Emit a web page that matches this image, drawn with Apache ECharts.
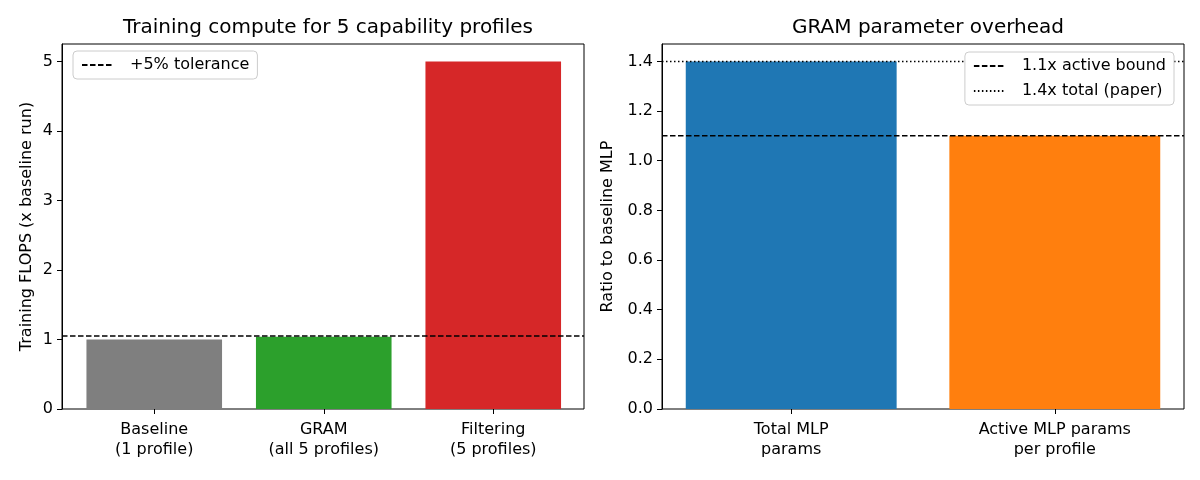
<!DOCTYPE html>
<html>
<head>
<meta charset="utf-8">
<script src="https://cdn.jsdelivr.net/npm/echarts@6/dist/echarts.min.js"></script>
<style>
  html, body { margin: 0; padding: 0; background: #fff; }
  #chart { width: 1200px; height: 480px; }
</style>
</head>
<body>
<div id="chart"></div>
<script>
// left panel
const computeCats = ['Baseline\n(1 profile)', 'GRAM\n(all 5 profiles)', 'Filtering\n(5 profiles)'];
const computeVals = [1.0, 1.04, 5.0];
const computeColors = ['#7f7f7f', '#2ca02c', '#d62728'];
const computeTicks = [0, 1, 2, 3, 4, 5];
const tolerance = 1.05;

// right panel
const paramCats = ['Total MLP\nparams', 'Active MLP params\nper profile'];
const paramVals = [1.4, 1.1];
const paramColors = ['#1f77b4', '#ff7f0e'];
const paramTicks = [0, 0.2, 0.4, 0.6, 0.8, 1.0, 1.2, 1.4];
const activeBound = 1.1;
const totalPaper = 1.4;

const FONT = 'DejaVu Sans';
const FS = 16;
const chart = echarts.init(document.getElementById('chart'));

const plotTop = 44, plotH = 365;
// frame grids (spines) and inner bar grids (matplotlib margins)
const grids = [
  { left: 62, top: plotTop, width: 522, height: plotH, show: true, borderColor: '#000', borderWidth: 1 },
  { left: 69.5, top: plotTop, width: 508.5, height: plotH },
  { left: 662, top: plotTop, width: 522, height: plotH, show: true, borderColor: '#000', borderWidth: 1 },
  { left: 659.4, top: plotTop, width: 527.2, height: plotH }
];

function frameY(grid, max, ticks, name, gap, fmt) {
  return {
    type: 'value', gridIndex: grid, min: 0, max: max,
    name: name, nameLocation: 'middle', nameGap: gap,
    nameTextStyle: { fontFamily: FONT, fontSize: FS, color: '#000' },
    splitLine: { show: false },
    axisLine: { show: true, lineStyle: { color: '#000', width: 1 } },
    axisTick: { show: true, length: 5, lineStyle: { color: '#000' }, customValues: ticks },
    axisLabel: { fontFamily: FONT, fontSize: FS, color: '#000', margin: 9, customValues: ticks, formatter: fmt }
  };
}
function hiddenY(grid, max) {
  return { type: 'value', gridIndex: grid, min: 0, max: max, show: false, splitLine: { show: false } };
}
function hiddenX(grid) {
  return { type: 'value', gridIndex: grid, min: 0, max: 1, show: false, splitLine: { show: false } };
}
function catX(grid, cats) {
  return {
    type: 'category', gridIndex: grid, data: cats,
    axisLine: { show: false },
    axisTick: { show: true, alignWithLabel: true, length: 5, lineStyle: { color: '#000' } },
    axisLabel: { fontFamily: FONT, fontSize: FS, color: '#000', margin: 11, lineHeight: 20 }
  };
}
function refLine(name, grid, y, dash) {
  return {
    name: name, type: 'line', xAxisIndex: grid, yAxisIndex: grid,
    data: [[0, y], [1, y]], symbol: 'none', silent: true, z: 3,
    itemStyle: { color: '#000' },
    lineStyle: { color: '#000', width: 1.5, type: dash }
  };
}
const legendBase = {
  z: 10, orient: 'vertical', itemWidth: 32, itemHeight: 14, padding: [6, 8],
  backgroundColor: '#fff', borderColor: '#ccc', borderWidth: 1, borderRadius: 4,
  itemStyle: { opacity: 0 },
  textStyle: { fontFamily: FONT, fontSize: FS, color: '#000', padding: [0, 0, 0, 11] }
};

chart.setOption({
  animation: false,
  title: [
    { text: 'Training compute for 5 capability profiles', left: 323, top: 13, textAlign: 'center',
      textStyle: { fontFamily: FONT, fontSize: 20, fontWeight: 'normal', color: '#000' } },
    { text: 'GRAM parameter overhead', left: 923, top: 13, textAlign: 'center',
      textStyle: { fontFamily: FONT, fontSize: 20, fontWeight: 'normal', color: '#000' } }
  ],
  legend: [
    Object.assign({}, legendBase, { data: ['+5% tolerance'], left: 73, top: 51 }),
    Object.assign({}, legendBase, { data: ['1.1x active bound', '1.4x total (paper)'], right: 26, top: 52, itemGap: 9 })
  ],
  grid: grids,
  xAxis: [hiddenX(0), catX(1, computeCats), hiddenX(2), catX(3, paramCats)],
  yAxis: [
    frameY(0, 5.25, computeTicks, 'Training FLOPS (x baseline run)', 27, v => String(v)),
    hiddenY(1, 5.25),
    frameY(2, 1.47, paramTicks, 'Ratio to baseline MLP', 46, v => v.toFixed(1)),
    hiddenY(3, 1.47)
  ],
  series: [
    { type: 'bar', xAxisIndex: 1, yAxisIndex: 1, barWidth: '80%', z: 2,
      data: computeVals.map((v, i) => ({ value: v, itemStyle: { color: computeColors[i] } })) },
    refLine('+5% tolerance', 0, tolerance, [5.5, 2.5]),
    { type: 'bar', xAxisIndex: 3, yAxisIndex: 3, barWidth: '80%', z: 2,
      data: paramVals.map((v, i) => ({ value: v, itemStyle: { color: paramColors[i] } })) },
    refLine('1.1x active bound', 2, activeBound, [5.5, 2.5]),
    refLine('1.4x total (paper)', 2, totalPaper, [1.5, 2.5])
  ]
});
</script>
</body>
</html>
